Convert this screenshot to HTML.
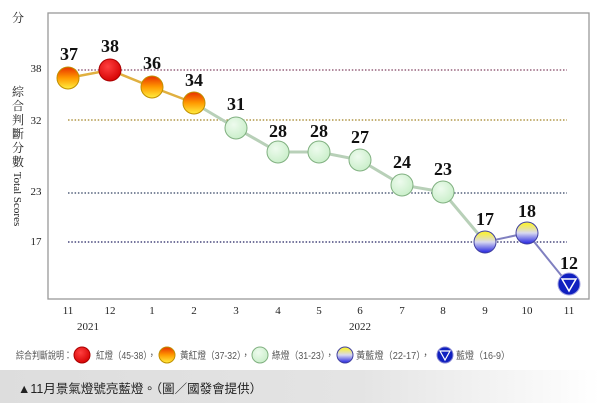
<!DOCTYPE html>
<html><head><meta charset="utf-8"><style>
body{margin:0;background:#fff;width:600px;height:403px;overflow:hidden;font-family:"Liberation Serif","Noto Serif CJK SC",serif;}
.cap{position:absolute;left:0;top:370px;width:600px;height:33px;background:linear-gradient(90deg,#ddd,#e4e4e4 60%,#fff);}
.cap span{position:absolute;left:18px;top:8px;font:12.5px "Liberation Sans","Noto Sans CJK TC",sans-serif;color:#222;}
</style></head><body>
<svg width="600" height="370" style="position:absolute;left:0;top:0">
<defs>
<radialGradient id="r" cx="0.4" cy="0.35" r="0.7"><stop offset="0" stop-color="#ff4040"/><stop offset="1" stop-color="#d40000"/></radialGradient>
<linearGradient id="o" x1="0" y1="0" x2="0" y2="1"><stop offset="0" stop-color="#e83000"/><stop offset="0.5" stop-color="#ff9a00"/><stop offset="1" stop-color="#ffee40"/></linearGradient>
<radialGradient id="g" cx="0.4" cy="0.35" r="0.7"><stop offset="0" stop-color="#eefbee"/><stop offset="1" stop-color="#c8eec8"/></radialGradient>
<linearGradient id="y" x1="0" y1="0" x2="0" y2="1"><stop offset="0.1" stop-color="#f8f040"/><stop offset="0.5" stop-color="#d8d8f0"/><stop offset="1" stop-color="#2020e0"/></linearGradient>
</defs>
<rect x="48" y="13" width="541" height="286" fill="none" stroke="#999" stroke-width="1.3"/>
<g stroke-width="1.3" stroke-dasharray="1.5,1.8">
<line x1="68" x2="567" y1="70" y2="70" stroke="#804060"/>
<line x1="68" x2="567" y1="120" y2="120" stroke="#a08020"/>
<line x1="68" x2="567" y1="193" y2="193" stroke="#304060"/>
<line x1="68" x2="567" y1="242" y2="242" stroke="#202060"/>
</g>
<g font-size="11" fill="#222" text-anchor="middle">
<text x="36" y="72">38</text><text x="36" y="124">32</text><text x="36" y="195">23</text><text x="36" y="245">17</text>
<text x="18" y="22" font-size="12">分</text>
<text x="18" y="96" font-size="12">綜</text><text x="18" y="110" font-size="12">合</text><text x="18" y="124" font-size="12">判</text><text x="18" y="138" font-size="12">斷</text><text x="18" y="152" font-size="12">分</text><text x="18" y="166" font-size="12">數</text>
<text transform="translate(14,199) rotate(90)" font-size="11">Total Scores</text>
<text x="68" y="314">11</text><text x="110" y="314">12</text><text x="152" y="314">1</text><text x="194" y="314">2</text><text x="236" y="314">3</text><text x="278" y="314">4</text><text x="319" y="314">5</text><text x="360" y="314">6</text><text x="402" y="314">7</text><text x="443" y="314">8</text><text x="485" y="314">9</text><text x="527" y="314">10</text><text x="569" y="314">11</text>
<text x="88" y="330">2021</text><text x="360" y="330">2022</text>
</g>
<polyline points="68,78 110,70 152,87 194,103" fill="none" stroke="#e0b040" stroke-width="2.5"/>
<polyline points="194,103 236,128 278,152 319,152 360,160 402,185 443,192 485,242" fill="none" stroke="#b8d0b8" stroke-width="3"/>
<polyline points="485,242 527,233 569,285" fill="none" stroke="#8080c0" stroke-width="2"/>
<g stroke-width="1">
<circle cx="68" cy="78" r="11" fill="url(#o)" stroke="#c09000"/>
<circle cx="110" cy="70" r="11" fill="url(#r)" stroke="#a00"/>
<circle cx="152" cy="87" r="11" fill="url(#o)" stroke="#c09000"/>
<circle cx="194" cy="103" r="11" fill="url(#o)" stroke="#c09000"/>
<circle cx="236" cy="128" r="11" fill="url(#g)" stroke="#80b080"/>
<circle cx="278" cy="152" r="11" fill="url(#g)" stroke="#80b080"/>
<circle cx="319" cy="152" r="11" fill="url(#g)" stroke="#80b080"/>
<circle cx="360" cy="160" r="11" fill="url(#g)" stroke="#80b080"/>
<circle cx="402" cy="185" r="11" fill="url(#g)" stroke="#80b080"/>
<circle cx="443" cy="192" r="11" fill="url(#g)" stroke="#80b080"/>
<circle cx="485" cy="242" r="11" fill="url(#y)" stroke="#4040a0"/>
<circle cx="527" cy="233" r="11" fill="url(#y)" stroke="#4040a0"/>
<circle cx="569" cy="284" r="11" fill="#1020c0" stroke="#a0a0e0"/>
<polygon points="562,279 576,279 569,291" fill="none" stroke="#fff" stroke-width="1.5"/>
</g>
<g font-size="18" font-weight="bold" fill="#111" text-anchor="middle">
<text x="69" y="60">37</text><text x="110" y="52">38</text><text x="152" y="69">36</text><text x="194" y="86">34</text><text x="236" y="110">31</text><text x="278" y="137">28</text><text x="319" y="137">28</text><text x="360" y="143">27</text><text x="402" y="168">24</text><text x="443" y="175">23</text><text x="485" y="225">17</text><text x="527" y="217">18</text><text x="569" y="269">12</text>
</g>
<g font-family="Liberation Sans,Noto Sans CJK TC,sans-serif" font-size="10" fill="#555" lengthAdjust="spacingAndGlyphs">
<text x="16" y="359" textLength="56" lengthAdjust="spacingAndGlyphs">綜合判斷說明：</text>
<circle cx="82" cy="355" r="8" fill="url(#r)" stroke="#a00"/>
<text x="96" y="359" textLength="60" lengthAdjust="spacingAndGlyphs">紅燈（45-38），</text>
<circle cx="167" cy="355" r="8" fill="url(#o)" stroke="#c09000"/>
<text x="180" y="359" textLength="70" lengthAdjust="spacingAndGlyphs">黃紅燈（37-32），</text>
<circle cx="260" cy="355" r="8" fill="url(#g)" stroke="#80b080"/>
<text x="272" y="359" textLength="62" lengthAdjust="spacingAndGlyphs">綠燈（31-23），</text>
<circle cx="345" cy="355" r="8" fill="url(#y)" stroke="#4040a0"/>
<text x="356" y="359" textLength="74" lengthAdjust="spacingAndGlyphs">黃藍燈（22-17），</text>
<circle cx="445" cy="355" r="8" fill="#1020c0" stroke="#8080d0"/>
<polygon points="440,351 450,351 445,360" fill="none" stroke="#fff" stroke-width="1.2"/>
<text x="456" y="359" textLength="54" lengthAdjust="spacingAndGlyphs">藍燈（16-9）</text>
</g>
</svg>
<div class="cap"><span>▲11月景氣燈號亮藍燈。（圖／國發會提供）</span></div>
</body></html>
